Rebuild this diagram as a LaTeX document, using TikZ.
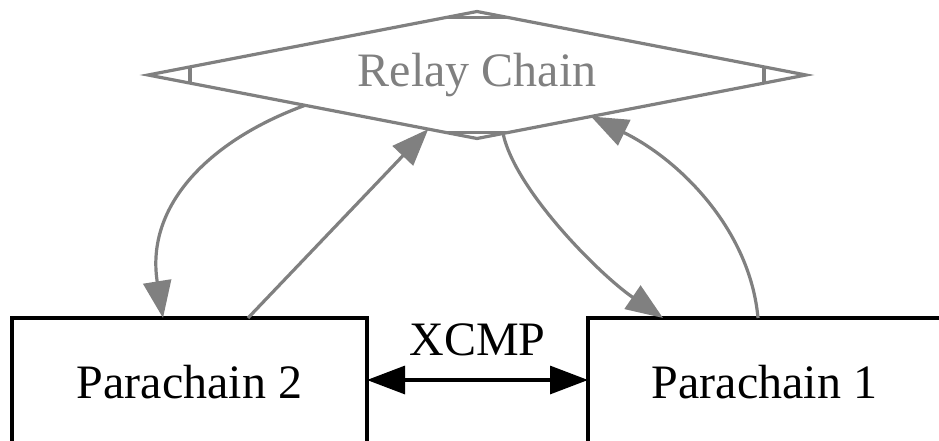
\documentclass[tikz,border=0pt]{standalone}
\usepackage{fontspec}
\setmainfont{Liberation Serif}
\usetikzlibrary{shapes.geometric,arrows.meta,calc}

\tikzset{
  x=1pt, y=-1pt,
  relayshape/.style={diamond, aspect=5.18, draw=gray, line width=3.2pt, text=gray,
    minimum width=658pt, minimum height=127pt, inner sep=0pt, outer sep=0pt,
    font=\fontsize{48}{56}\selectfont},
  relayline/.style={draw=gray, line width=3.2pt},
  chainbox/.style={rectangle, draw=black, line width=3.2pt,
    minimum height=128pt, inner sep=0pt, outer sep=0pt,
    font=\fontsize{48}{56}\selectfont},
  grayarrow/.style={draw=gray, line width=3.2pt,
    -{Triangle[length=37pt,width=28pt]}, color=gray},
  xcmparrow/.style={draw=black, line width=3.2pt,
    {Triangle[length=38pt,width=28pt]}-{Triangle[length=38pt,width=28pt]}},
  xcmplabel/.style={font=\fontsize{48}{56}\selectfont, anchor=base, inner sep=0pt}
}

\begin{document}
\begin{tikzpicture}
\useasboundingbox (0,0) rectangle (939,441);
\clip (0,0) rectangle (939,441);

% relay chain (Mdiamond)
\node[relayshape] (relay) at (477,75) {Relay Chain};
\draw[relayline] ($(relay.west)!0.1277!(relay.north)$) -- ($(relay.west)!0.1277!(relay.south)$);
\draw[relayline] ($(relay.east)!0.1277!(relay.north)$) -- ($(relay.east)!0.1277!(relay.south)$);
\draw[relayline] ($(relay.north)!0.095!(relay.west)$) -- ($(relay.north)!0.095!(relay.east)$);
\draw[relayline] ($(relay.south)!0.095!(relay.west)$) -- ($(relay.south)!0.095!(relay.east)$);

% parachains
\node[chainbox, minimum width=355pt] (p2) at (189.5,382) {Parachain 2};
\node[chainbox, minimum width=353pt] (p1) at (764.5,382) {Parachain 1};

% relay <-> parachain messages
\draw[grayarrow] (relay.190) .. controls (210,140) and (145,205) .. ([xshift=-26.5pt]p2.north);
\draw[grayarrow] ([xshift=58.5pt]p2.north) -- (relay.228);
\draw[grayarrow] (relay.294) .. controls (515,190) and (600,275) .. ([xshift=-101.5pt]p1.north);
\draw[grayarrow] ([xshift=-6.5pt]p1.north) .. controls (750,230) and (680,160) .. (relay.340);

% cross-chain messaging
\draw[xcmparrow] ([yshift=2pt]p2.east) -- node[xcmplabel, yshift=25pt] (xcmp) {XCMP} ([yshift=2pt]p1.west);
\end{tikzpicture}
\end{document}
